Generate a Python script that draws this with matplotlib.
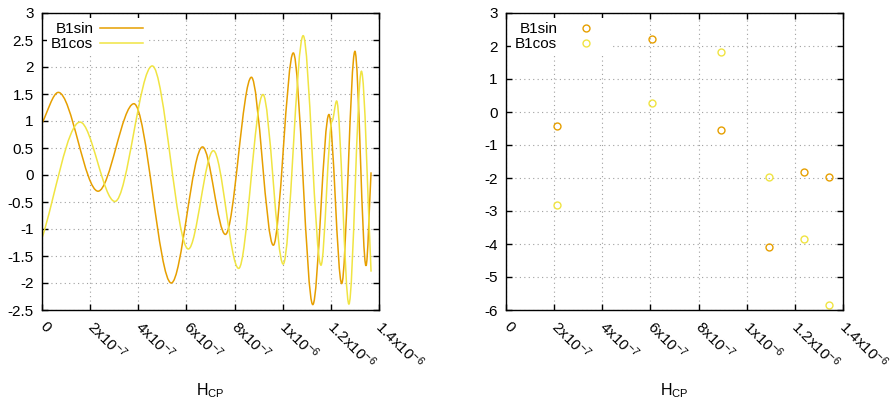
import numpy as np
import matplotlib
matplotlib.use("Agg")
import matplotlib.pyplot as plt
import matplotlib.transforms as mtransforms
from matplotlib.path import Path
from matplotlib.patches import PathPatch
from matplotlib.lines import Line2D
from matplotlib.ticker import MultipleLocator, FuncFormatter

plt.rcParams['font.family'] = ['Liberation Sans', 'DejaVu Sans']
plt.rcParams['axes.unicode_minus'] = False
plt.rcParams['mathtext.default'] = 'regular'

ORANGE = '#e69f00'  # gnuplot lt 4
YELLOW = '#f0e442'  # gnuplot lt 5

# Left panel: turning points of the two curves
hcp_sin = [0.0, 0.068e-6, 0.233e-6, 0.382e-6, 0.537e-6, 0.667e-6, 0.762e-6,
           0.870e-6, 0.961e-6, 1.044e-6, 1.125e-6, 1.192e-6, 1.245e-6,
           1.300e-6, 1.346e-6, 1.367e-6]
b1sin = [0.96, 1.53, -0.30, 1.32, -2.00, 0.52, -1.10,
         1.81, -1.30, 2.26, -2.40, 1.12, -2.01,
         2.29, -1.68, 0.05]

hcp_cos = [0.0, 0.158e-6, 0.303e-6, 0.458e-6, 0.608e-6, 0.712e-6, 0.817e-6,
           0.918e-6, 1.002e-6, 1.085e-6, 1.159e-6, 1.205e-6, 1.224e-6,
           1.275e-6, 1.327e-6, 1.367e-6]
b1cos = [-1.17, 0.98, -0.49, 2.02, -1.37, 0.45, -1.73,
         1.49, -1.65, 2.58, -1.67, 1.00, 1.37,
         -2.39, 1.92, -1.79]

# Right panel: sampled points
hcp_pts = [2.106e-7, 6.08e-7, 8.92e-7, 1.0926e-6, 1.2367e-6, 1.343e-6]
b1sin_pts = [-0.42, 2.22, -0.54, -4.09, -1.82, -1.98]
b1cos_pts = [-2.82, 0.28, 1.83, -1.97, -3.84, -5.86]

xticks = [0, 2e-7, 4e-7, 6e-7, 8e-7, 1e-6, 1.2e-6, 1.4e-6]
xticklabels = ['0', '2x10$^{-7}$', '4x10$^{-7}$', '6x10$^{-7}$', '8x10$^{-7}$',
               '1x10$^{-6}$', '1.2x10$^{-6}$', '1.4x10$^{-6}$']

FS = 11


# smooth path through the turning points (flat tangent at each one,
# the free ends just head straight for their neighbour)
def smooth_path(xs, ys):
    verts = [(xs[0], ys[0])]
    codes = [Path.MOVETO]
    n = len(xs)
    for i in range(1, n):
        x0, y0, x1, y1 = xs[i-1], ys[i-1], xs[i], ys[i]
        dx = (x1 - x0) / 3
        c0y = y0 if i - 1 > 0 else y0 + (y1 - y0) / 3
        c1y = y1 if i < n - 1 else y1 - (y1 - y0) / 3
        verts += [(x0 + dx, c0y), (x1 - dx, c1y), (x1, y1)]
        codes += [Path.CURVE4] * 3
    return Path(verts, codes)


def style_axes(ax, fig):
    ax.set_xlim(0, 1.4e-6)
    ax.set_xticks(xticks)
    ax.set_xticklabels(xticklabels, rotation=-45, ha='left', va='center',
                       rotation_mode='anchor')
    shift = mtransforms.ScaledTranslation(2/72, 0, fig.dpi_scale_trans)
    for lab in ax.get_xticklabels():
        lab.set_transform(lab.get_transform() + shift)
    ax.tick_params(direction='in', top=True, right=True, length=4, width=1,
                   labelsize=FS, colors='black')
    ax.tick_params(axis='x', pad=10)
    ax.tick_params(axis='y', pad=6)
    ax.yaxis.set_major_formatter(FuncFormatter(lambda v, p: '%g' % v))
    ax.grid(True, color='#a0a0a0', linestyle=(0, (1, 3)), linewidth=0.8)
    ax.set_axisbelow(True)
    for s in ax.spines.values():
        s.set_linewidth(1)
    ax.set_xlabel('H$_{CP}$', fontsize=11.5)
    ax.xaxis.set_label_coords(0.5, -0.24)


def add_key(ax, handles=None, labels=None):
    kw = dict(loc='upper left', markerfirst=False, numpoints=1,
              handlelength=2.8, handletextpad=0.45, fontsize=FS,
              frameon=True, fancybox=False, framealpha=1,
              edgecolor='none', borderpad=0.3, labelspacing=0.05,
              borderaxespad=0.3)
    if handles is None:
        return ax.legend(**kw)
    return ax.legend(handles, labels, **kw)


fig = plt.figure(figsize=(8.96, 4), dpi=100)
ax1 = fig.add_axes([42/896, 90/400, 337/896, 297/400])
ax2 = fig.add_axes([506/896, 90/400, 337/896, 297/400])

# left: curves
ax1.add_patch(PathPatch(smooth_path(hcp_sin, b1sin), fill=False,
                        edgecolor=ORANGE, lw=1.1))
ax1.add_patch(PathPatch(smooth_path(hcp_cos, b1cos), fill=False,
                        edgecolor=YELLOW, lw=1.1))
ax1.set_ylim(-2.5, 3)
ax1.yaxis.set_major_locator(MultipleLocator(0.5))
style_axes(ax1, fig)
h1 = [Line2D([], [], color=ORANGE, lw=1.1), Line2D([], [], color=YELLOW, lw=1.1)]
add_key(ax1, h1, ['B1sin', 'B1cos'])

# right: points
ax2.plot(hcp_pts, b1sin_pts, 'o', mfc='none', mec=ORANGE, ms=5, mew=1,
         label='B1sin')
ax2.plot(hcp_pts, b1cos_pts, 'o', mfc='none', mec=YELLOW, ms=5, mew=1,
         label='B1cos')
ax2.set_ylim(-6, 3)
ax2.yaxis.set_major_locator(MultipleLocator(1))
style_axes(ax2, fig)
add_key(ax2)

fig.savefig('out.png', dpi=100)
